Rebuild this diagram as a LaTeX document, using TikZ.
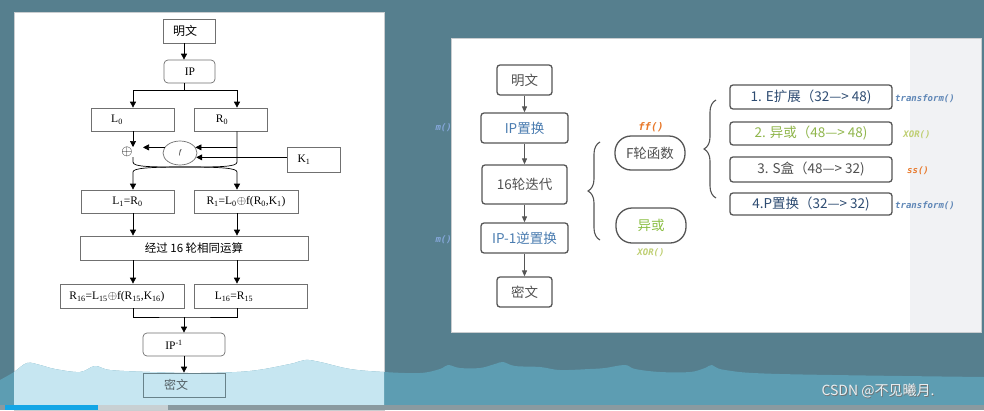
\documentclass[tikz,border=0pt]{standalone}
\usepackage{fontspec}
\setmainfont{Liberation Serif}
\newfontfamily\cjkf{Noto Sans CJK SC}
\newfontfamily\codef{DejaVu Sans Mono}
\usetikzlibrary{arrows.meta,decorations.pathreplacing,shapes.geometric,calc}
\definecolor{bgteal}{HTML}{567F8E}
\definecolor{panelline}{HTML}{C9CDD0}
\definecolor{stripgrey}{HTML}{F1F2F4}
\definecolor{lgrey}{HTML}{707070}
\definecolor{rgrey}{HTML}{555555}
\definecolor{tgrey}{HTML}{505050}
\definecolor{tblue}{HTML}{4A7CB0}
\definecolor{tnavy}{HTML}{2E4C72}
\definecolor{tgreen}{HTML}{8CBF45}
\definecolor{tgreen2}{HTML}{90B64C}
\definecolor{lgreen}{HTML}{BFCF72}
\definecolor{torange}{HTML}{E8792B}
\definecolor{lblue}{HTML}{5E86B6}
\definecolor{mblue}{HTML}{86A8DC}
\definecolor{wavedark}{HTML}{5D9DB2}
\definecolor{wavelight}{HTML}{C6E6F1}
\definecolor{barblue}{HTML}{13A6E6}
\definecolor{barlight}{HTML}{C8D0D3}
\definecolor{bargrey}{HTML}{8A9AA0}
\definecolor{csdn}{HTML}{E9EEF0}
\newcommand\lsub[1]{\textsubscript{#1}}
\begin{document}
\begin{tikzpicture}[x=1pt,y=-1pt,
  lbox/.style={draw=lgrey, line width=0.7pt, inner sep=0pt, font=\fontsize{11.5}{13}\selectfont},
  lround/.style={lbox, rounded corners=4pt},
  ltext/.style={inner sep=0pt, font=\fontsize{11.5}{13}\selectfont},
  larr/.style={-{Triangle[length=6pt,width=6pt]}, line width=0.7pt, black},
  lline/.style={line width=0.7pt, black},
  rbox/.style={draw=rgrey, line width=1.3pt, rounded corners=3pt, inner sep=0pt, font=\cjkf\fontsize{13.5}{15}\selectfont, text=tgrey},
  rpill/.style={rbox, rounded corners=16pt},
  rarr/.style={-{Triangle[length=6pt,width=5pt]}, line width=1pt, rgrey},
  codelab/.style={inner sep=0pt, font=\codef\bfseries\itshape\fontsize{9}{10}\selectfont},
  rbrace/.style={decorate, decoration={brace, amplitude=12pt}, line width=1.1pt, rgrey}
]
\useasboundingbox (0,0) rectangle (984,410);
\fill[bgteal] (0,0) rectangle (984,410);
% panels
\fill[white] (14,12) rectangle (384,410);
\draw[panelline, line width=0.8pt] (14,12) rectangle (384,410);
\fill[white] (451,38) rectangle (981,332);
\fill[stripgrey] (910,38) rectangle (981,332);
\draw[panelline, line width=0.8pt] (451,38) rectangle (981,332);

% ---------------- left diagram ----------------
\coordinate (axis) at (184,0);
\coordinate (colL) at (133,0);
\coordinate (colR) at (237,0);
\node[lbox, minimum width=52pt, minimum height=24pt] (lm) at (189,31) {};
\node[ltext, font=\cjkf\fontsize{12}{13}\selectfont] (lmt) at (185,31) {明文};
\node[lround, minimum width=51pt, minimum height=23pt] (lip) at (189.5,71.5) {};
\node[ltext] (lipt) at (190,72) {IP};
\node[lbox, minimum width=83pt, minimum height=23pt] (L0) at (132.5,119.5) {};
\node[ltext] (L0t) at (117,120) {L\lsub{0}};
\node[lbox, minimum width=73pt, minimum height=23pt] (R0) at (230.5,119.5) {};
\node[ltext] (R0t) at (222,120) {R\lsub{0}};
\node[ltext, font=\fontsize{15}{16}\selectfont] (xo) at (127,152) {$\oplus$};
\node[ellipse, draw=lgrey, line width=0.7pt, minimum width=34pt, minimum height=24pt, inner sep=0pt] (f) at (180,153) {\fontsize{7}{8}\selectfont\itshape f};
\node[lbox, minimum width=53pt, minimum height=25pt] (K1) at (313.5,159.5) {};
\node[ltext] (K1t) at (304,160) {K\lsub{1}};
\node[lbox, minimum width=93pt, minimum height=23pt] (L1) at (127.5,201.5) {L\lsub{1}=R\lsub{0}};
\node[lbox, minimum width=104pt, minimum height=23pt] (R1) at (246,201.5) {R\lsub{1}=L\lsub{0}$\oplus$f(R\lsub{0},K\lsub{1})};
\node[lbox, minimum width=228pt, minimum height=24pt, font=\cjkf\fontsize{11.5}{13}\selectfont] (J) at (194,248) {经过 16 轮相同运算};
\node[lbox, minimum width=124pt, minimum height=24pt] (R16) at (122,296) {};
\node[ltext] (R16t) at (117,297) {R\lsub{16}=L\lsub{15}$\oplus$f(R\lsub{15},K\lsub{16})};
\node[lbox, minimum width=113pt, minimum height=24pt] (L16) at (250.5,296) {};
\node[ltext] (L16t) at (234,297) {L\lsub{16}=R\lsub{15}};
\node[lround, minimum width=82pt, minimum height=23pt] (lipi) at (184,344.5) {};
\node[ltext] (lipit) at (174,345) {IP\textsuperscript{-1}};

\draw[larr] (lm.south -| axis) -- (lip.north -| axis);
\coordinate (s1) at (184,90);
\draw[lline] (lip.south -| axis) -- (s1);
\draw[larr] (s1) -| (L0.north -| colL);
\draw[larr] (s1) -| (R0.north -| colR);
\draw[larr] (L0.south -| colL) -- (xo.north -| colL);
\coordinate (xotip) at (143,0);
\draw[larr] (f.160) -- (f.160 -| xotip);
\draw[larr] (colR |- f.20) -- (f.20);
\draw[larr] (K1.west |- f.-15) -- (f.-15);
\coordinate (xL) at (133,162);
\coordinate (xR) at (237,162);
\coordinate (xm) at (185,167);
\draw[larr] (xo.south -| colL) -- (xL) .. controls (133,167) and (150,167) .. (xm) .. controls (220,167) and (237,168) .. (237,172) -- (R1.north -| colR);
\draw[larr] (R0.south -| colR) -- (xR) .. controls (237,167) and (220,167) .. (xm) .. controls (150,167) and (133,168) .. (133,172) -- (L1.north -| colL);
\draw[larr] (L1.south -| colL) -- (J.north -| colL);
\draw[larr] (R1.south -| colR) -- (J.north -| colR);
\draw[larr] (J.south -| colL) -- (R16.north -| colL);
\draw[larr] (J.south -| colR) -- (L16.north -| colR);
\coordinate (m2) at (184,317);
\draw[lline] (R16.south -| colL) |- (m2) -| (L16.south -| colR);
\draw[larr] (m2) -- (lipi.north);

% ---------------- right diagram ----------------
\node[rbox, minimum width=55pt, minimum height=30pt] (rm) at (524.5,80) {明文};
\node[rbox, minimum width=87pt, minimum height=30pt, text=tblue] (rip) at (524.5,128) {IP置换};
\node[rbox, minimum width=85pt, minimum height=39pt] (r16) at (524.5,184.5) {16轮迭代};
\node[rbox, minimum width=87pt, minimum height=30pt, text=tblue] (ripi) at (524.5,238) {IP-1逆置换};
\node[rbox, minimum width=55pt, minimum height=30pt] (rc) at (524.5,292) {密文};
\draw[rarr] (rm) -- (rip);
\draw[rarr] (rip) -- (r16);
\draw[rarr] (r16) -- (ripi);
\draw[rarr] (ripi) -- (rc);
\draw[rbrace] (600,240) -- (600,142);
\node[rpill, minimum width=70pt, minimum height=34pt] (F) at (650,153) {F轮函数};
\node[rpill, minimum width=70pt, minimum height=35pt, text=tgreen] (X) at (651,225.5) {异或};
\node[codelab, text=torange, font=\codef\bfseries\itshape\fontsize{10.5}{11}\selectfont] (ffl) at (651,127) {ff()};
\node[codelab, text=lgreen] (xorl) at (651,253) {XOR()};
\draw[rbrace] (716,198) -- (716,100);
\node[rbox, minimum width=162pt, minimum height=24pt, text=tnavy] (b1) at (811,97) {1. E扩展（32—> 48)};
\node[rbox, minimum width=162pt, minimum height=23pt, text=tgreen2] (b2) at (811,133.5) {2. 异或（48—> 48)};
\node[rbox, minimum width=162pt, minimum height=25pt, text=tgrey] (b3) at (811,169.5) {3. S盒（48—> 32)};
\node[rbox, minimum width=162pt, minimum height=22pt, text=tnavy] (b4) at (811,204) {4.P置换（32—> 32)};
\node[codelab, text=lblue] (t1) at (925,99) {transform()};
\node[codelab, text=lgreen] (t2) at (917,135) {XOR()};
\node[codelab, text=torange] (t3) at (918,171) {ss()};
\node[codelab, text=lblue] (t4) at (925,206) {transform()};
\node[codelab, text=mblue, anchor=east] (m1) at (452,128) {m()};
\node[codelab, text=mblue, anchor=east] (m2l) at (452,240) {m()};

% ---------------- wave and bottom ----------------
\def\wavepath{plot[smooth, tension=0.6] coordinates {(0,380) (14,372) (27,363) (40,365) (55,369) (80,372) (95,366) (110,370) (150,372) (200,373) (250,371) (290,364) (305,360) (320,362) (350,369) (384,372) (420,373) (440,369) (448,365) (460,368) (480,368) (495,364) (503,362) (515,366) (540,367) (560,370) (590,369) (605,368) (625,365) (635,369) (660,372) (690,372) (705,368) (712,365) (725,370) (780,374) (984,377)} -- (984,405) -- (0,405) -- cycle}
\fill[wavedark] \wavepath;
\begin{scope}
\clip (14,12) rectangle (384,405);
\fill[wavelight] \wavepath;
\end{scope}
\node[lbox, draw=lgrey!60!wavedark, minimum width=82pt, minimum height=24pt] (lc) at (184,385) {};
\node[ltext, font=\cjkf\fontsize{12}{13}\selectfont, text=tgrey!80!wavedark] (lct) at (176,385) {密文};
\draw[larr] (lipi.south) -- (lc.north);
\fill[bargrey] (0,405) rectangle (984,410);
\fill[barblue] (5,405) rectangle (98,410);
\fill[barlight] (98,405) rectangle (168,410);
\node[inner sep=0pt, font=\cjkf\fontsize{14}{16}\selectfont, text=black!55] (csdnsh) at (878.8,391.8) {CSDN @不见曦月.};
\node[inner sep=0pt, font=\cjkf\fontsize{14}{16}\selectfont, text=csdn] (csdnt) at (878,391) {CSDN @不见曦月.};
\end{tikzpicture}
\end{document}
